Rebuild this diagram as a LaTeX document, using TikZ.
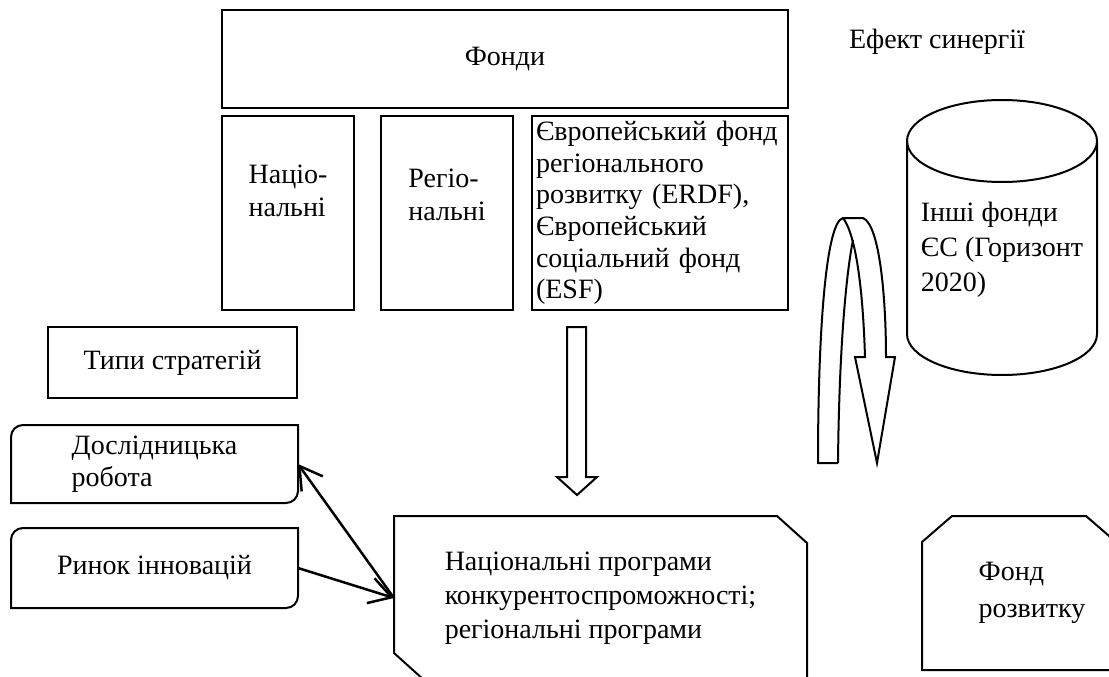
\documentclass[tikz,border=0pt]{standalone}
\usepackage{fontspec}
\setmainfont{Liberation Serif}
\usepackage{tikz}
\usetikzlibrary{arrows.meta, shapes, positioning}
\tikzstyle{every node} = [font=\fontsize{28pt}{33pt}\selectfont]
\tikzstyle{block} = [draw, rectangle, line width=2pt, inner sep=3pt, outer sep=0pt]
\tikzstyle{fund} = [block, minimum width=132pt, minimum height=194pt, align=left]
\tikzstyle{plain} = [rectangle, outer sep=0pt, align=left]
\tikzstyle{outline} = [draw, line width=2pt]
\tikzstyle{hollow} = [draw, line width=2pt, fill=white]
\tikzstyle{line} = [draw, -{Straight Barb[length=22pt,width=26pt]}, line width=2.5pt]

\begin{document}
\begin{tikzpicture}[x=1pt, y=-1pt]
\useasboundingbox[fill=white] (0,0) rectangle (1109,677);

% Create Blocks
\node [block, anchor=north west, minimum width=566pt, minimum height=98pt] (fonds) at (222,10) {Фонди};
\node [fund, anchor=north west, text depth=45pt] (nat) at (222,116) {Націо-\\нальні};
\node [fund, right=27pt of nat, text depth=37pt] (reg) {Регіо-\\нальні};
\node [block, right=19pt of reg, text width=248pt, inner xsep=4pt, minimum height=194pt, align=left,
       font=\fontsize{28pt}{31.7pt}\selectfont] (erdf)
      {Європейський фонд\\регіонального\\розвитку (ERDF),\\Європейський\\соціальний фонд\\(ESF)};

\node (syn) at (937,42) {Ефект синергії};
\node [plain, font=\fontsize{28pt}{35pt}\selectfont] (other) at (1002,250) {Інші фонди\\ЄС (Горизонт\\2020)};

\node [block, anchor=north west, minimum width=249pt, minimum height=71pt] (types) at (48,327) {Типи стратегій};
\node [plain, minimum width=287pt, minimum height=78pt, font=\fontsize{28pt}{32pt}\selectfont] (res) at (154.5,464)
      {Дослідницька\\робота};
\node [plain, minimum width=287pt, minimum height=80pt] (mkt) at (154.5,568) {Ринок інновацій};

\node [plain, minimum width=413pt, minimum height=164pt, font=\fontsize{28pt}{34pt}\selectfont] (prog) at (600.5,598)
      {Національні програми\\конкурентоспроможності;\\регіональні програми};
\node [plain, minimum width=168pt, minimum height=154pt, font=\fontsize{28pt}{37pt}\selectfont] (dev) at (1032,593)
      {Фонд\\розвитку};

% Cylinder
\draw [outline] (907,141) -- (907,334) arc [start angle=180, end angle=360, x radius=95pt, y radius=41pt] -- (1097,141);
\draw [outline] (1002,141) ellipse [x radius=95pt, y radius=41pt];

% Outlines with rounded diagonal corners
\draw [outline] (res.north east) -- ([yshift=12pt]res.south east) arc [start angle=0, end angle=-90, radius=12pt]
      -- (res.south west) -- ([yshift=-12pt]res.north west) arc [start angle=180, end angle=90, radius=12pt] -- cycle;
\draw [outline] (mkt.north east) -- ([yshift=12pt]mkt.south east) arc [start angle=0, end angle=-90, radius=12pt]
      -- (mkt.south west) -- ([yshift=-12pt]mkt.north west) arc [start angle=180, end angle=90, radius=12pt] -- cycle;

% Outlines with snipped corners
\draw [outline] (prog.north west) -- ([xshift=-30pt]prog.north east) -- ([yshift=-27pt]prog.north east)
      -- (prog.south east) -- ([xshift=30pt]prog.south west) -- ([yshift=27pt]prog.south west) -- cycle;
\draw [outline] ([xshift=-26pt]dev.south west) -- ([xshift=-26pt, yshift=-26pt]dev.north west) -- ([xshift=4pt]dev.north west)
      -- ([xshift=-30pt]dev.north east) -- ([yshift=-26pt]dev.north east) -- (dev.south east) -- cycle;

% Block arrows
\draw [hollow] (567,327) -- (586,327) -- (586,477) -- (597,477) -- (577,495) -- (557,477) -- (567,477) -- cycle;
\draw [hollow] (838,463) -- (818,463) .. controls (818,330) and (826,222) .. (843,218) -- (863,218)
      .. controls (880,225) and (886,300) .. (886,357) -- (895,357) -- (877,463) -- (855,357) -- (865,357)
      .. controls (863,290) and (856,235) .. (843,218);
\draw [outline] (838,463) .. controls (839,360) and (845,280) .. (853,240);

% Add Arrows
\path [line] (mkt.east) -- (prog.west);
\path [line] (prog.west) -- (res.east);
\end{tikzpicture}
\end{document}
